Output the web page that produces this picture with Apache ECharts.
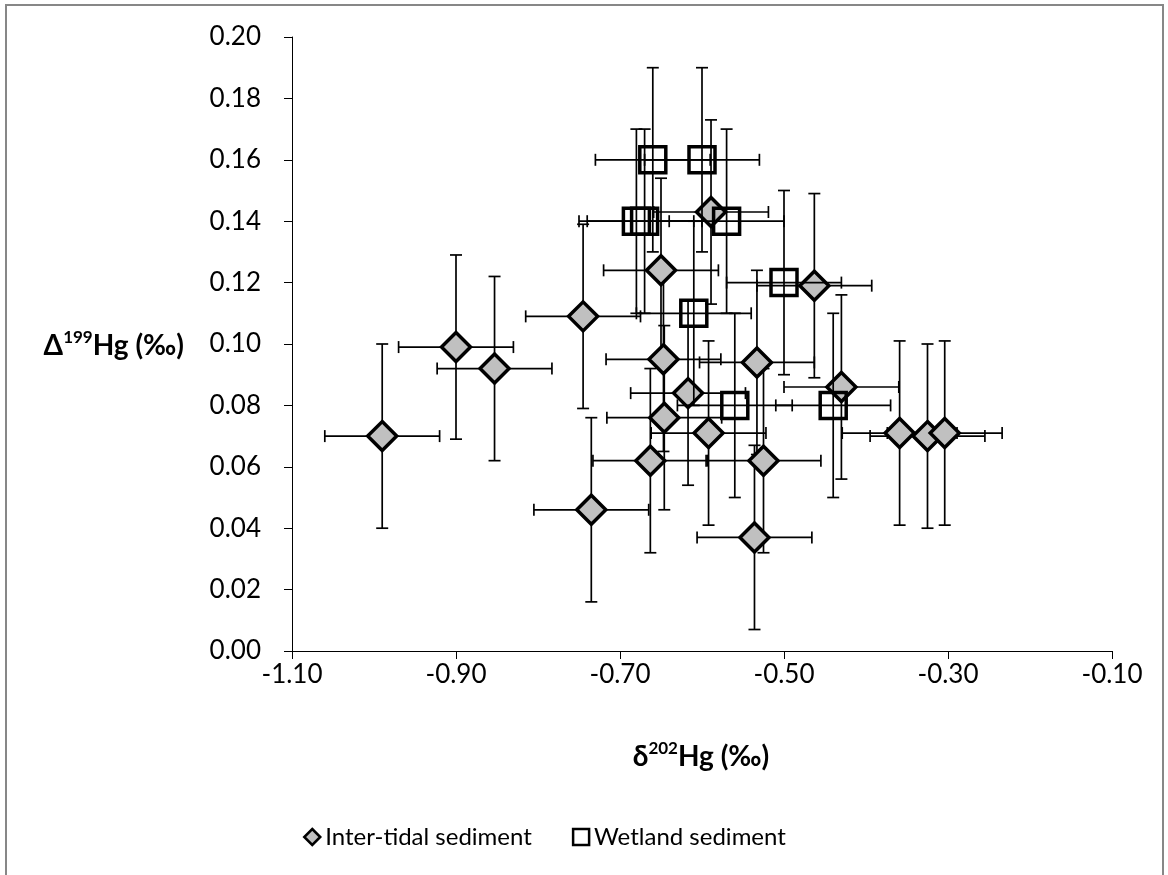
<!DOCTYPE html>
<html>
<head>
<meta charset="utf-8">
<script src="https://cdn.jsdelivr.net/npm/echarts@6/dist/echarts.min.js"></script>
<style>
  html, body { margin: 0; padding: 0; background: #fff; }
  #chart { width: 1168px; height: 875px; }
</style>
</head>
<body>
<div id="chart"></div>
<script>
  //数据 读自原图
  var interX = [-0.99, -0.90, -0.853, -0.745, -0.735, -0.650, -0.589, -0.463, -0.647, -0.617,
                -0.646, -0.592, -0.533, -0.663, -0.525, -0.536, -0.430, -0.359, -0.325, -0.304];
  var interY = [0.070, 0.099, 0.092, 0.109, 0.046, 0.124, 0.143, 0.119, 0.095, 0.084,
                0.076, 0.071, 0.094, 0.062, 0.062, 0.037, 0.086, 0.071, 0.070, 0.071];
  var interXErr = [0.07, 0.07, 0.07, 0.07, 0.07, 0.07, 0.07, 0.07, 0.07, 0.07,
                   0.07, 0.07, 0.07, 0.07, 0.07, 0.07, 0.07, 0.07, 0.07, 0.07];
  var interYErr = [0.03, 0.03, 0.03, 0.03, 0.03, 0.03, 0.03, 0.03, 0.03, 0.03,
                   0.03, 0.03, 0.03, 0.03, 0.03, 0.03, 0.03, 0.03, 0.03, 0.03];

  var wetX = [-0.66, -0.60, -0.68, -0.67, -0.57, -0.50, -0.61, -0.56, -0.44];
  var wetY = [0.16, 0.16, 0.14, 0.14, 0.14, 0.12, 0.11, 0.08, 0.08];
  var wetXErr = [0.07, 0.07, 0.07, 0.07, 0.07, 0.07, 0.07, 0.07, 0.07];
  var wetYErr = [0.03, 0.03, 0.03, 0.03, 0.03, 0.03, 0.03, 0.03, 0.03];

  var seriesNames = ['Inter-tidal sediment', 'Wetland sediment'];

  var App = {};

  App.init = function(){
    var _this = this;
    var font = 'Lato, "Open Sans", "DejaVu Sans", sans-serif';

    //组合成 [x, y, xerr, yerr]
    _this.F_rows = function(xs, ys, ex, ey){
      var out = [];
      for (var i = 0; i < xs.length; i++) out.push([xs[i], ys[i], ex[i], ey[i]]);
      return out;
    }

    //误差棒 custom series
    _this.F_errorBar = function(params, api){
      var x = api.value(0), y = api.value(1), ex = api.value(2), ey = api.value(3);
      var l = api.coord([x - ex, y]), r = api.coord([x + ex, y]);
      var t = api.coord([x, y + ey]), b = api.coord([x, y - ey]);
      var h = 6;
      var st = { stroke: '#000', lineWidth: 1.7 };
      var ln = function(x1, y1, x2, y2){
        return { type: 'line', shape: { x1: x1, y1: y1, x2: x2, y2: y2 }, style: st };
      };
      return {
        type: 'group',
        children: [
          ln(l[0], l[1], r[0], r[1]),
          ln(l[0], l[1] - h, l[0], l[1] + h),
          ln(r[0], r[1] - h, r[0], r[1] + h),
          ln(t[0], t[1], b[0], b[1]),
          ln(t[0] - h, t[1], t[0] + h, t[1]),
          ln(b[0] - h, b[1], b[0] + h, b[1])
        ]
      };
    }

    //坐标轴标题 上标用 rich
    _this.F_title = function(text, x, y, align){
      return {
        type: 'text', x: x, y: y, silent: true,
        style: {
          text: text, fontFamily: font, align: align, verticalAlign: 'middle',
          rich: {
            b: { fontSize: 28, fontWeight: 'bold', fontFamily: font, lineHeight: 34 },
            s: { fontSize: 17, fontWeight: 'bold', fontFamily: font, verticalAlign: 'top', lineHeight: 20 }
          }
        }
      };
    }

    _this.F_loadChart = function(){
      var chart = echarts.init(document.getElementById('chart'));
      var interRows = _this.F_rows(interX, interY, interXErr, interYErr);
      var wetRows = _this.F_rows(wetX, wetY, wetXErr, wetYErr);

      var option = {
        animation: false,
        textStyle: { fontFamily: font, color: '#000' },
        grid: { left: 292, right: 56, top: 37, bottom: 224 },
        xAxis: {
          type: 'value', min: -1.1, max: -0.1, interval: 0.2,
          axisLine: { lineStyle: { color: '#000', width: 1 } },
          axisTick: { length: 8, lineStyle: { color: '#000' } },
          axisLabel: { fontSize: 26, color: '#000', margin: 11, fontFamily: font,
            formatter: function(v){ return v.toFixed(2); } },
          splitLine: { show: false }
        },
        yAxis: {
          type: 'value', min: 0, max: 0.2, interval: 0.02,
          axisLine: { show: true, lineStyle: { color: '#000', width: 1 } },
          axisTick: { show: true, length: 8, lineStyle: { color: '#000' } },
          axisLabel: { fontSize: 26, color: '#000', margin: 31, fontFamily: font,
            formatter: function(v){ return v.toFixed(2); } },
          splitLine: { show: false }
        },
        legend: {
          left: 298, top: 820, itemGap: 40, itemWidth: 16, itemHeight: 16,
          textStyle: { fontSize: 24, color: '#000', fontFamily: font },
          data: [
            { name: seriesNames[0], icon: 'diamond',
              itemStyle: { color: '#c0c0c0', borderColor: '#000', borderWidth: 2.5 } },
            { name: seriesNames[1], icon: 'rect',
              itemStyle: { color: '#fff', borderColor: '#000', borderWidth: 2.5 } }
          ]
        },
        graphic: [
          { type: 'rect', silent: true, z: -1,
            shape: { x: 6, y: 5, width: 1157, height: 900 },
            style: { fill: 'none', stroke: '#878787', lineWidth: 2 } },
          _this.F_title('{b|Δ}{s|199}{b|Hg (‰)}', 184, 346, 'right'),
          _this.F_title('{b|δ}{s|202}{b|Hg (‰)}', 701, 757, 'center')
        ],
        series: [
          { name: seriesNames[0] + ' err', type: 'custom', renderItem: _this.F_errorBar,
            encode: { x: 0, y: 1 }, data: interRows, z: 1, silent: true },
          { name: seriesNames[0], type: 'scatter', symbol: 'diamond', symbolSize: 29,
            data: interRows.map(function(d){ return [d[0], d[1]]; }), z: 2,
            itemStyle: { color: '#c0c0c0', borderColor: '#000', borderWidth: 3.5, opacity: 1 } },
          { name: seriesNames[1] + ' err', type: 'custom', renderItem: _this.F_errorBar,
            encode: { x: 0, y: 1 }, data: wetRows, z: 3, silent: true },
          { name: seriesNames[1], type: 'scatter', symbol: 'rect', symbolSize: 26,
            data: wetRows.map(function(d){ return [d[0], d[1]]; }), z: 4,
            itemStyle: { color: 'rgba(255,255,255,0)', borderColor: '#000', borderWidth: 3.5, opacity: 1 } }
        ]
      };

      chart.setOption(option);
    }

    _this.F_loadChart();
  }

  App.init();
</script>
</body>
</html>
